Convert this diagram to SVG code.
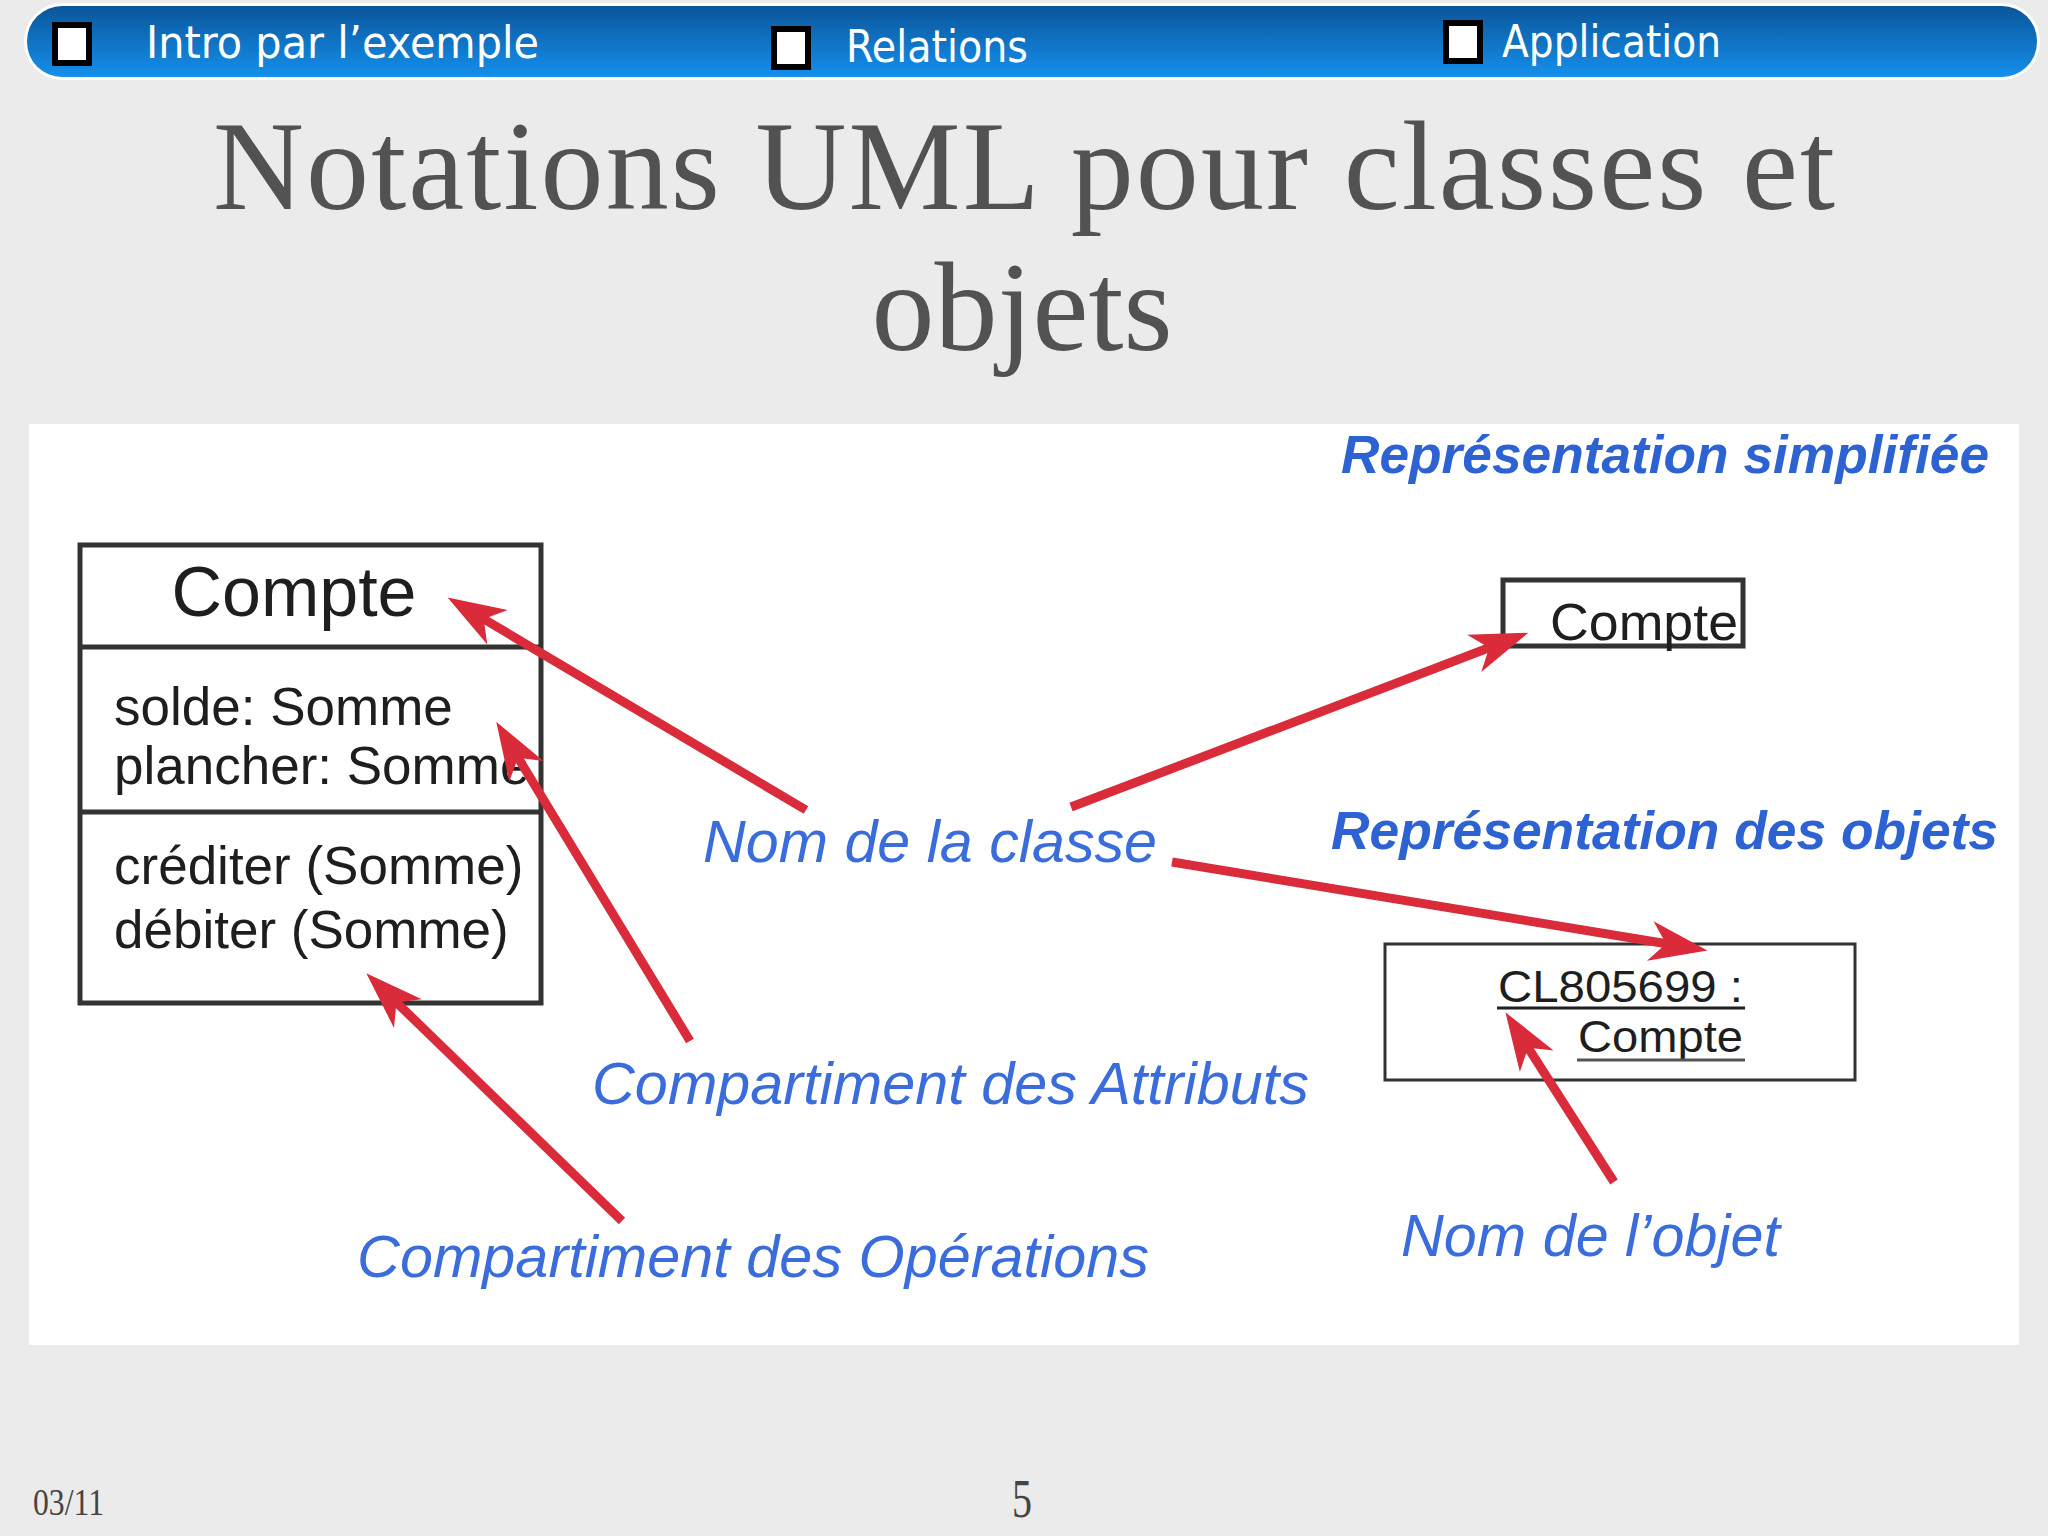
<svg xmlns="http://www.w3.org/2000/svg" width="2048" height="1536" viewBox="0 0 2048 1536">
  <defs>
    <linearGradient id="barGrad" x1="0" y1="0" x2="0" y2="1">
      <stop offset="0" stop-color="#0a559a"/>
      <stop offset="1" stop-color="#1590ec"/>
    </linearGradient>
    <marker id="ah" markerUnits="userSpaceOnUse" markerWidth="62" markerHeight="46" viewBox="0 0 62 46" refX="20" refY="23" orient="auto">
      <path d="M60,23 L2,3 L18,23 L2,43 Z" fill="#d92b3a"/>
    </marker>
    <style>
      .nav { font-family: "DejaVu Sans", "Liberation Sans", sans-serif; font-size: 44px; fill: #ffffff; }
      .chk { fill: #ffffff; stroke: #000000; stroke-width: 6; }
      .title { font-family: "Liberation Serif", serif; font-size: 126px; fill: #525252; }
      .box { fill: none; stroke: #333333; stroke-width: 5; }
      .thin { fill: none; stroke: #333333; stroke-width: 3; }
      .uml { font-family: "Liberation Sans", Arial, sans-serif; fill: #1e1e1e; }
      .lbl { font-family: "Liberation Sans", Arial, sans-serif; font-style: italic; font-size: 59px; fill: #3a6cdb; }
      .lblb { font-family: "Liberation Sans", Arial, sans-serif; font-style: italic; font-weight: bold; font-size: 53px; fill: #2d62d2; }
      .arrow { fill: none; stroke: #d92b3a; stroke-width: 9; marker-end: url(#ah); }
      .foot { font-family: "Liberation Serif", serif; fill: #444444; }
    </style>
  </defs>

  <rect x="0" y="0" width="2048" height="1536" fill="#ebebeb"/>

  <g id="navbar">
    <rect x="24" y="3" width="2016" height="77" rx="38" fill="#ffffff"/>
    <rect x="27" y="6" width="2010" height="71" rx="35" fill="url(#barGrad)"/>
    <rect class="chk" x="55" y="25" width="34" height="38"/>
    <text class="nav" x="146" y="58" textLength="393" lengthAdjust="spacingAndGlyphs">Intro par l’exemple</text>
    <rect class="chk" x="774" y="29" width="34" height="38"/>
    <text class="nav" x="846" y="62" textLength="182" lengthAdjust="spacingAndGlyphs">Relations</text>
    <rect class="chk" x="1446" y="23" width="34" height="38"/>
    <text class="nav" x="1502" y="57" textLength="219" lengthAdjust="spacingAndGlyphs">Application</text>
  </g>

  <g id="title">
    <text class="title" x="213" y="209" textLength="1622" lengthAdjust="spacing">Notations UML pour classes et</text>
    <text class="title" x="1022" y="350" text-anchor="middle">objets</text>
  </g>

  <rect id="panel" x="29" y="424" width="1990" height="921" fill="#ffffff"/>

  <g id="class-compte">
    <rect class="box" x="80" y="545" width="461" height="458"/>
    <line class="box" x1="80" y1="647" x2="541" y2="647"/>
    <line class="box" x1="80" y1="812" x2="541" y2="812"/>
    <text class="uml" x="294" y="616" font-size="70" text-anchor="middle">Compte</text>
    <text class="uml" x="114" y="725" font-size="53">solde: Somme</text>
    <text class="uml" x="114" y="784" font-size="53">plancher: Somme</text>
    <text class="uml" x="114" y="884" font-size="53">créditer (Somme)</text>
    <text class="uml" x="114" y="948" font-size="53">débiter (Somme)</text>
  </g>

  <g id="class-simplifiee">
    <rect class="box" x="1503" y="580" width="240" height="66"/>
    <text class="uml" x="1550" y="640" font-size="52" textLength="188" lengthAdjust="spacingAndGlyphs">Compte</text>
  </g>

  <g id="objet-cl805699">
    <rect class="thin" x="1385" y="944" width="470" height="136"/>
    <text class="uml" x="1498" y="1002" font-size="45" textLength="245" lengthAdjust="spacingAndGlyphs">CL805699 :</text>
    <line x1="1497" y1="1008" x2="1745" y2="1008" stroke="#1e1e1e" stroke-width="3"/>
    <text class="uml" x="1578" y="1052" font-size="45" textLength="165" lengthAdjust="spacingAndGlyphs">Compte</text>
    <line x1="1577" y1="1060" x2="1745" y2="1060" stroke="#555555" stroke-width="3"/>
  </g>

  <g id="labels">
    <text class="lblb" x="1341" y="473" textLength="648" lengthAdjust="spacingAndGlyphs">Représentation simplifiée</text>
    <text class="lblb" x="1331" y="849" textLength="667" lengthAdjust="spacingAndGlyphs">Représentation des objets</text>
    <text class="lbl" x="703" y="862" textLength="454" lengthAdjust="spacingAndGlyphs">Nom de la classe</text>
    <text class="lbl" x="592" y="1104" textLength="717" lengthAdjust="spacingAndGlyphs">Compartiment des Attributs</text>
    <text class="lbl" x="357" y="1277" textLength="792" lengthAdjust="spacingAndGlyphs">Compartiment des Opérations</text>
    <text class="lbl" x="1401" y="1256" textLength="379" lengthAdjust="spacingAndGlyphs">Nom de l’objet</text>
  </g>

  <g id="connectors">
    <line class="arrow" x1="806" y1="810" x2="482" y2="618"/>
    <line class="arrow" x1="690" y1="1041" x2="517" y2="756"/>
    <line class="arrow" x1="622" y1="1221" x2="395" y2="1001"/>
    <line class="arrow" x1="1071" y1="807" x2="1491" y2="647"/>
    <line class="arrow" x1="1172" y1="862" x2="1668" y2="944"/>
    <line class="arrow" x1="1614" y1="1182" x2="1527" y2="1046"/>
  </g>

  <g id="footer">
    <text class="foot" x="33" y="1515" font-size="38" textLength="71" lengthAdjust="spacingAndGlyphs">03/11</text>
    <text class="foot" x="1012" y="1517" font-size="54" textLength="20" lengthAdjust="spacingAndGlyphs">5</text>
  </g>
</svg>
